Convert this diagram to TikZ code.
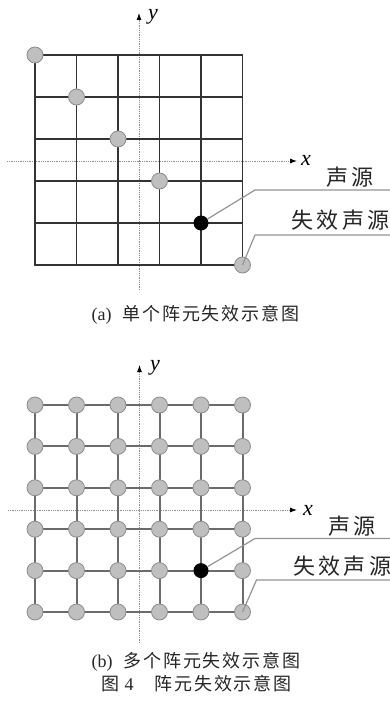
\documentclass[tikz,border=0pt]{standalone}
\usepackage{fontspec}
\setmainfont{Liberation Serif}
\newfontfamily\cjklabelfont[LetterSpace=15]{Noto Sans CJK SC}
\newfontfamily\cjkcapfont[LetterSpace=10]{Noto Sans CJK SC}
\usetikzlibrary{arrows.meta}

\begin{document}
\begin{tikzpicture}[x=1pt,y=-1pt,
  axis/.style={draw=black!45, line width=0.9pt, dash pattern=on 0.9pt off 0.9pt,
               -{Latex[black,length=7pt,width=5pt]}},
  gridA/.style={draw=black!80, line width=1.7pt, line cap=rect},
  gridB/.style={draw=black!58, line width=2pt, line cap=rect},
  elem/.style={circle, inner sep=0pt, minimum size=16pt, fill=black!25,
               draw=black!45, line width=0.8pt},
  dead/.style={circle, inner sep=0pt, minimum size=15pt, fill=black},
  leader/.style={draw=black!42, line width=1.2pt},
  lbl/.style={inner sep=0pt, anchor=west, text=black!85,
              font=\fontsize{22}{24}\cjklabelfont},
  captext/.style={inner sep=0pt, anchor=west, text=black!85,
              font=\fontsize{18}{20}\selectfont},
  axlbl/.style={inner sep=0pt, anchor=west,
                font=\fontsize{22}{24}\selectfont\itshape}]

\fill[white] (0,0) rectangle (390,709);
\useasboundingbox (0,0) rectangle (390,709);

% ---------------- (a) one failed element ----------------
% axes
\coordinate (AxL) at (7,161);   \coordinate (AxR) at (297,161);
\coordinate (AyB) at (139,290); \coordinate (AyT) at (139,13);
\draw[axis] (AxL) -- (AxR);
\draw[axis] (AyB) -- (AyT);
\node[axlbl] (Axlab) at (301,160) {x};
\node[axlbl] (Aylab) at (148,17) {y};

% grid points (column i, row j)
\foreach \i in {0,...,5}{
  \foreach \j in {0,...,5}{
    \coordinate (A\i\j) at ({35+41.5*\i},{55+42*\j});
  }
}
\foreach \i in {0,...,5}{
  \draw[gridA] (A\i0) -- (A\i5);
  \draw[gridA] (A0\i) -- (A5\i);
}

% elements on the diagonal
\foreach \k in {0,...,3}{
  \node[elem] (Ae\k) at (A\k\k) {};
}
\node[dead] (Adead) at (A44) {};
\node[elem] (Acorner) at (A55) {};

% callouts
\coordinate (Ak1) at (255,190); \coordinate (Ae1end) at (390,190);
\coordinate (Ak2) at (255,235); \coordinate (Ae2end) at (390,235);
\draw[leader] (Adead) -- (Ak1) -- (Ae1end);
\draw[leader] (Acorner.center) -- (Ak2) -- (Ae2end);
\node[lbl] (Alab1) at (326.5,177) {声源};
\node[lbl] (Alab2) at (291.5,220) {失效声源};

\node[captext] (Acap) at (91.5,315) {(a)\hspace{11pt}{\cjkcapfont 单个阵元失效示意图}};

% ---------------- (b) several failed elements ----------------
\coordinate (BxL) at (8,510);   \coordinate (BxR) at (297,510);
\coordinate (ByB) at (139.5,643); \coordinate (ByT) at (139.5,365);
\draw[axis] (BxL) -- (BxR);
\draw[axis] (ByB) -- (ByT);
\node[axlbl] (Bxlab) at (303,510) {x};
\node[axlbl] (Bylab) at (150,368) {y};

\foreach \i in {0,...,5}{
  \foreach \j in {0,...,5}{
    \coordinate (B\i\j) at ({35+41.5*\i},{405+41.4*\j});
  }
}
\foreach \i in {0,...,5}{
  \draw[gridB] (B\i0) -- (B\i5);
  \draw[gridB] (B0\i) -- (B5\i);
}
\foreach \i in {0,...,5}{
  \foreach \j in {0,...,5}{
    \ifnum\i\j=44
      \node[dead] (Bdead) at (B\i\j) {};
    \else
      \node[elem] (Be\i\j) at (B\i\j) {};
    \fi
  }
}

\coordinate (Bk1) at (255,538.5);   \coordinate (Be1end) at (390,538.5);
\coordinate (Bk2) at (256.5,580);   \coordinate (Be2end) at (390,580);
\draw[leader] (Bdead) -- (Bk1) -- (Be1end);
\draw[leader] (Be55.center) -- (Bk2) -- (Be2end);
\node[lbl] (Blab1) at (328,526) {声源};
\node[lbl] (Blab2) at (293,566) {失效声源};

\node[captext] (Bcap) at (91.5,661.5) {(b)\hspace{11pt}{\cjkcapfont 多个阵元失效示意图}};
\node[captext] (Fcap) at (101.5,683.5) {{\cjkcapfont 图}\hspace{5pt}4\hspace{21pt}{\cjkcapfont 阵元失效示意图}};

\end{tikzpicture}
\end{document}
